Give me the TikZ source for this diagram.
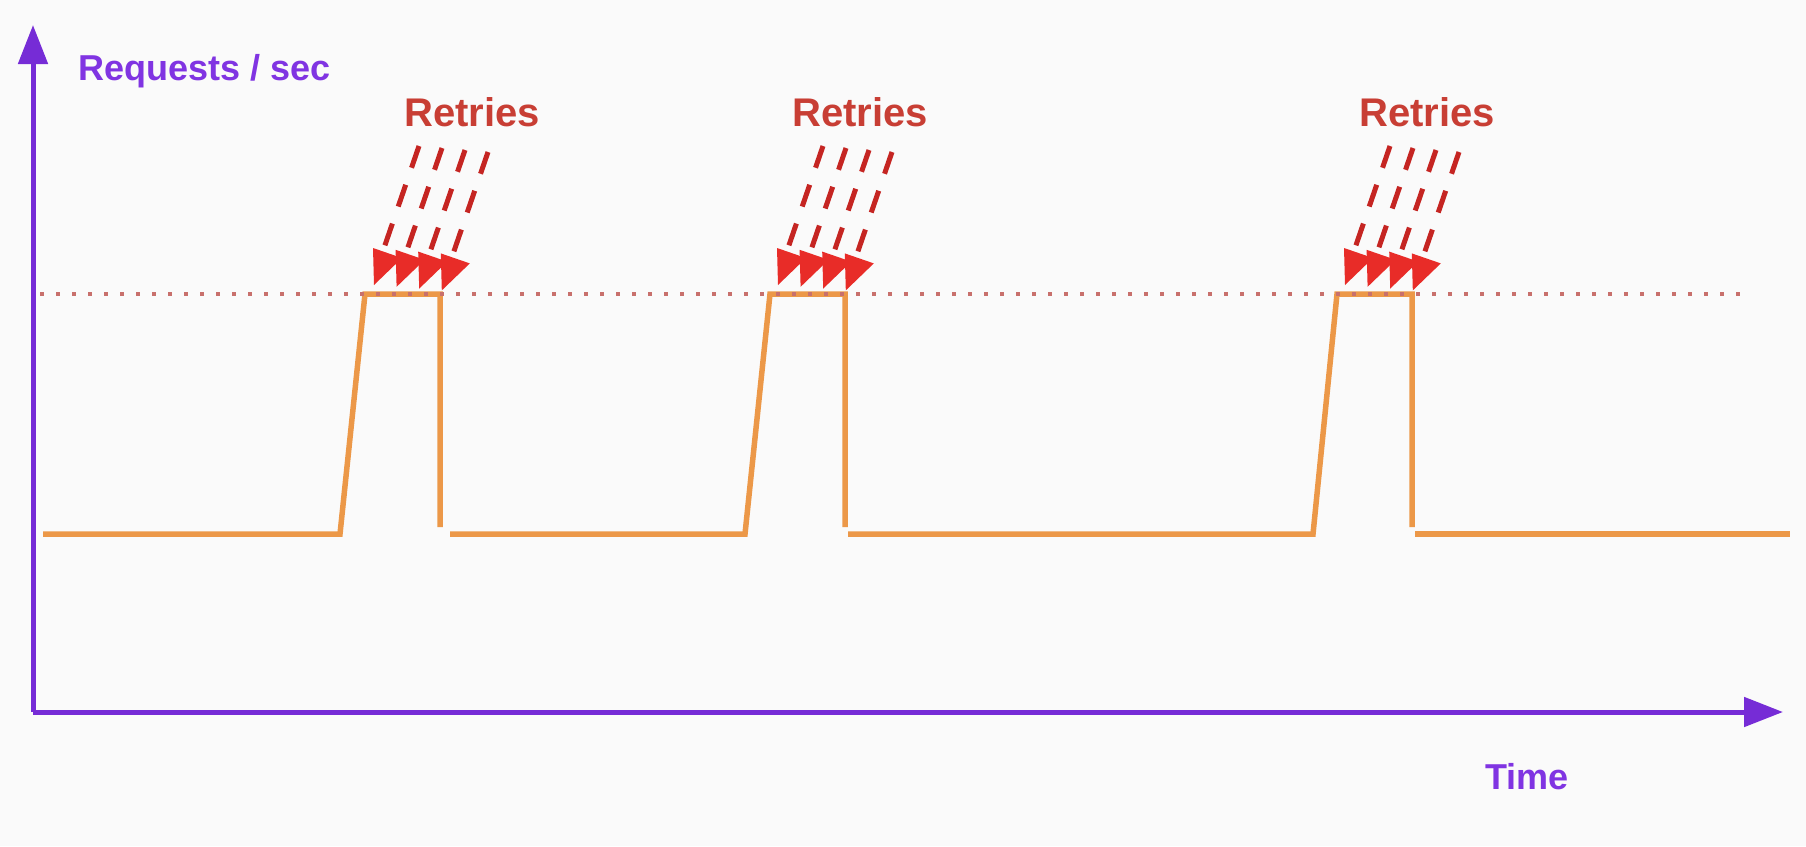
\documentclass[tikz,border=0pt]{standalone}
\usepackage{fontspec}
\setmainfont{Liberation Sans}
\usetikzlibrary{arrows.meta}
\definecolor{axispurple}{RGB}{118,44,214}
\definecolor{labelpurple}{RGB}{128,52,226}
\definecolor{loadorange}{RGB}{236,152,72}
\definecolor{retryred}{RGB}{232,44,40}
\definecolor{retrytext}{RGB}{200,62,52}
\definecolor{limitred}{RGB}{200,112,108}
\definecolor{bgpaper}{RGB}{250,250,250}

\begin{document}
\begin{tikzpicture}[x=1pt,y=-1pt,
        axis/.style={line width=5pt,axispurple,-{Triangle[length=39pt,width=29pt]}},
        load/.style={line width=5.5pt,loadorange,line join=miter},
        limit/.style={line width=3.5pt,limitred,dash pattern=on 3.5pt off 12.5pt},
        retry/.style={line width=5pt,retryred!85!black,dash pattern=on 23pt off 18pt},
        retryhead/.style={fill=retryred},
        axislabel/.style={text=labelpurple,font=\fontsize{36}{40}\selectfont\bfseries,inner sep=0pt},
        retrylabel/.style={text=retrytext,font=\fontsize{40}{44}\selectfont\bfseries,inner sep=0pt}]
        \fill[bgpaper](0,0)rectangle(1806,846);
        \useasboundingbox(0,0)rectangle(1806,846);
        % axes
        \coordinate(origin)at(33,712);
        \coordinate(ytip)at(33,25);
        \coordinate(xtip)at(1783,712);
        \draw[axis](origin)--(ytip);
        \draw[axis](origin)--(xtip);
        \node[axislabel,anchor=base west](ylabel)at(78,80){Requests / sec};
        \node[axislabel,anchor=base west](xlabel)at(1485,789){Time};
        % load curve
        \draw[load](43,534)--(340,534)--(365,294)--(440,294)--(440,527);
        \draw[load](450,534)--(745,534)--(770,294)--(845,294)--(845,527);
        \draw[load](848,534)--(1313,534)--(1337,294)--(1412,294)--(1412,527);
        \draw[load](1415,534)--(1790,534);
        % limit
        \draw[limit](40,294)--(1752,294);
        % retries
        \foreach \gx/\tx [count=\k] in {373/472,777/860,1344/1427}{
            \node[retrylabel,anchor=base](retries\k)at(\tx,126){Retries};
            \foreach \i in {0,...,3}
                \draw[retry](\gx+46+23*\i,146+2*\i)--(\gx+11+23*\i,248+2*\i);
            \foreach \i in {0,...,3}
                \fill[retryhead](\gx+22.6*\i,248+1.8*\i)--++(29,10)--++(-28,27)--cycle;
        }
    \end{tikzpicture}
\end{document}
